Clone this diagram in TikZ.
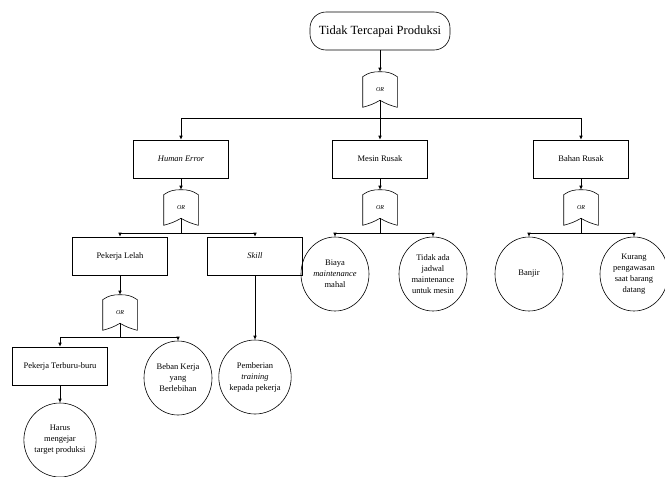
\documentclass[tikz,border=0pt]{standalone}
\usepackage{fontspec}
\setmainfont{Liberation Serif}
\usetikzlibrary{arrows.meta,shapes.geometric}
\begin{document}
\begin{tikzpicture}[x=1pt,y=-1pt,
            >={Latex[length=4pt,width=3.5pt]},
            line width=0.6pt,
            topevent/.style={draw, rounded corners=16pt, minimum width=140pt, minimum height=38pt, font=\fontsize{12.5}{14}\selectfont},
            box/.style={draw, minimum width=95pt, minimum height=38pt, font=\fontsize{8.5}{11}\selectfont},
            basic/.style={draw, ellipse, minimum width=68pt, minimum height=74pt, inner sep=0pt, align=center, font=\fontsize{8.5}{11}\selectfont},
            gate/.style={minimum width=34pt, minimum height=35pt, inner sep=0pt, font=\fontsize{6}{7}\selectfont\itshape}]
\useasboundingbox (0,0) rectangle (665,477);

% events
\node[topevent] (top) at (380,31) {Tidak Tercapai Produksi};
\node[box] (he) at (181,159) {\textit{Human Error}};
\node[box] (mr) at (380,159) {Mesin Rusak};
\node[box] (br) at (581,159) {Bahan Rusak};
\node[box] (pl) at (120,256) {Pekerja Lelah};
\node[box] (sk) at (255,256) {\textit{Skill}};
\node[box] (ptb) at (60,366) {Pekerja Terburu-buru};

\node[basic] (biaya) at (335,274) {Biaya\\\textit{maintenance}\\mahal};
\node[basic] (jadwal) at (433,274) {Tidak ada\\jadwal\\maintenance\\untuk mesin};
\node[basic] (banjir) at (529,274) {Banjir};
\node[basic] (kurang) at (634,274) {Kurang\\pengawasan\\saat barang\\datang};
\node[basic] (beban) at (178,378) {Beban Kerja\\yang\\Berlebihan};
\node[basic] (latih) at (255,377) {Pemberian\\\textit{training}\\kepada pekerja};
\node[basic] (harus) at (60,440) {Harus\\mengejar\\target produksi};

% gates
\node[gate] (g0) at (380,89.5) {OR};
\node[gate] (g1) at (181,207.5) {OR};
\node[gate] (g2) at (380,207.5) {OR};
\node[gate] (g3) at (581,207.5) {OR};
\node[gate] (g4) at (120,312.5) {OR};
\foreach \g in {g0,g1,g2,g3,g4} {
    \draw ([yshift=-5pt]\g.north west) to[out=35,in=180] (\g.north)
        to[out=0,in=145] ([yshift=-5pt]\g.north east) -- (\g.south east)
        to[out=165,in=-30] ([yshift=7pt]\g.south)
        to[out=-150,in=15] (\g.south west) -- cycle;
    \coordinate (\g c) at ([yshift=7pt]\g.south);
}

\coordinate (b0) at (380,118);
\coordinate (b1) at (181,233);
\coordinate (b2) at (380,233);
\coordinate (b3) at (581,233);
\coordinate (b4) at (120,337);

% connectors
\draw[->] (top) -- (g0.north);
\draw (g0c) -- (b0);
\draw[->] (b0) -| (he);
\draw[->] (b0) -- (mr);
\draw[->] (b0) -| (br);

\draw[->] (he) -- (g1.north);
\draw (g1c) -- (b1);
\draw[->] (b1) -| (pl);
\draw[->] (b1) -| (sk);

\draw[->] (mr) -- (g2.north);
\draw (g2c) -- (b2);
\draw[->] (b2) -| (biaya);
\draw[->] (b2) -| (jadwal);

\draw[->] (br) -- (g3.north);
\draw (g3c) -- (b3);
\draw[->] (b3) -| (banjir);
\draw[->] (b3) -| (kurang);

\draw[->] (pl) -- (g4.north);
\draw (g4c) -- (b4);
\draw[->] (b4) -| (ptb);
\draw[->] (b4) -| (beban);

\draw[->] (sk) -- (latih);
\draw[->] (ptb) -- (harus);

\end{tikzpicture}
\end{document}
